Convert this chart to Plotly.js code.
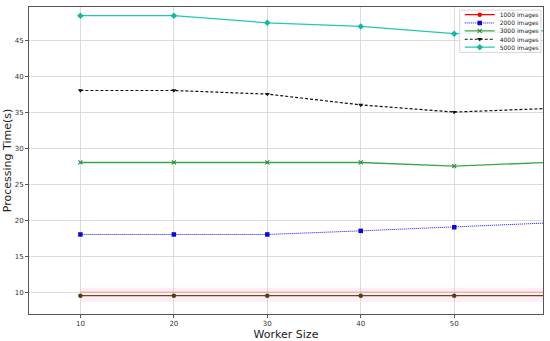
<!DOCTYPE html>
<html>
<head>
<meta charset="utf-8">
<script src="https://cdn.plot.ly/plotly-3.0.1.min.js"></script>
<style>html,body{margin:0;padding:0;background:#fff;}#chart{width:550px;height:341px;}</style>
</head>
<body>
<div id="chart"></div>
<script>
const workers = [10, 20, 30, 40, 50, 60];
const t1000 = [9.5, 9.5, 9.5, 9.5, 9.5, 9.5];
const t1000Ref = [10, 10, 10, 10, 10, 10];
const t1000Upper = [10.6, 10.6, 10.6, 10.6, 10.6, 10.6];
const t1000Lower = [8.6, 8.6, 8.6, 8.6, 8.6, 8.6];
const t2000 = [18, 18, 18, 18.5, 19, 19.6];
const t3000 = [28, 28, 28, 28, 27.5, 28];
const t4000 = [38, 38, 37.5, 36, 35, 35.5];
const t5000 = [48.4, 48.4, 47.4, 46.9, 45.9, 46.3];
const seriesNames = ['1000 images', '2000 images', '3000 images', '4000 images', '5000 images'];
const xTicks = [10, 20, 30, 40, 50];
const yTicks = [10, 15, 20, 25, 30, 35, 40, 45];

const traces = [
  {x: workers, y: t1000Lower, mode: 'lines', line: {width: 0, color: 'rgba(0,0,0,0)'}, showlegend: false, hoverinfo: 'skip'},
  {x: workers, y: t1000Upper, mode: 'lines', fill: 'tonexty', fillcolor: 'rgba(255,182,210,0.22)', line: {width: 0, color: 'rgba(0,0,0,0)'}, showlegend: false, hoverinfo: 'skip'},
  {x: workers, y: t1000Ref, mode: 'lines', line: {color: 'rgba(255,80,80,0.45)', width: 1}, showlegend: false},
  {x: workers, y: t1000, mode: 'lines+markers', line: {color: '#6b4a18', width: 1.3}, marker: {symbol: 'circle', size: 4.5, color: '#4a4212'}, showlegend: false},
  {x: workers, y: workers.map(() => null), name: seriesNames[0], legend: 'legend', mode: 'lines+markers', line: {color: '#ff0000', width: 1.3}, marker: {symbol: 'circle', size: 4.5, color: '#ff0000'}},
  {x: workers, y: t2000, name: seriesNames[1], legend: 'legend2', mode: 'lines+markers', line: {color: '#1010f0', width: 1, dash: '1px,1px'}, marker: {symbol: 'square', size: 4.5, color: '#0a0ad8'}},
  {x: workers, y: t3000, name: seriesNames[2], legend: 'legend3', mode: 'lines+markers', line: {color: '#3aa54a', width: 1.3}, marker: {symbol: 'x-thin', size: 4, color: '#2a8a3a', line: {color: '#2a8a3a', width: 1.1}}},
  {x: workers, y: t4000, name: seriesNames[3], legend: 'legend4', mode: 'lines+markers', line: {color: '#111111', width: 1.2, dash: '3px,2px'}, marker: {symbol: 'triangle-down', size: 4.5, color: '#111111'}},
  {x: workers, y: t5000, name: seriesNames[4], legend: 'legend5', mode: 'lines+markers', line: {color: '#22c8b6', width: 1.2}, marker: {symbol: 'diamond', size: 5, color: '#12b8a6'}}
];

const axisCommon = {
  showline: true, mirror: true, linecolor: '#555', linewidth: 1,
  showgrid: true, gridcolor: '#d3d3d3', gridwidth: 0.8,
  zeroline: false, ticks: 'outside', ticklen: 3, tickcolor: '#555',
  tickfont: {family: 'DejaVu Sans', size: 7, color: '#333'}
};

function legendAt(yc) {
  return {
    x: 0.838, y: yc, xanchor: 'left', yanchor: 'middle',
    bgcolor: 'rgba(0,0,0,0)', borderwidth: 0,
    font: {family: 'DejaVu Sans', size: 6, color: '#222'},
    itemwidth: 30
  };
}

const layout = {
  width: 550, height: 341,
  margin: {l: 29, r: 7, t: 7, b: 27, autoexpand: false},
  paper_bgcolor: '#fff', plot_bgcolor: '#fff',
  showlegend: true,
  xaxis: Object.assign({}, axisCommon, {
    range: [4.5, 59.5], tickvals: xTicks, ticktext: xTicks.map(String),
    title: {text: 'Worker Size', font: {family: 'DejaVu Sans', size: 11, color: '#222'}, standoff: 0}
  }),
  yaxis: Object.assign({}, axisCommon, {
    range: [6.95, 49.6], tickvals: yTicks, ticktext: yTicks.map(String),
    title: {text: 'Processing Time(s)', font: {family: 'DejaVu Sans', size: 11, color: '#222'}, standoff: 0}
  }),
  legend: legendAt(0.975),
  legend2: legendAt(0.948),
  legend3: legendAt(0.922),
  legend4: legendAt(0.895),
  legend5: legendAt(0.869),
  shapes: [{
    type: 'rect', xref: 'paper', yref: 'paper', layer: 'above',
    x0: 0.838, x1: 0.996, y0: 0.852, y1: 0.990,
    fillcolor: 'rgba(255,255,255,0.85)', line: {color: '#d8d8d8', width: 1}
  }]
};

Plotly.newPlot('chart', traces, layout, {displayModeBar: false, staticPlot: true});
</script>
</body>
</html>
